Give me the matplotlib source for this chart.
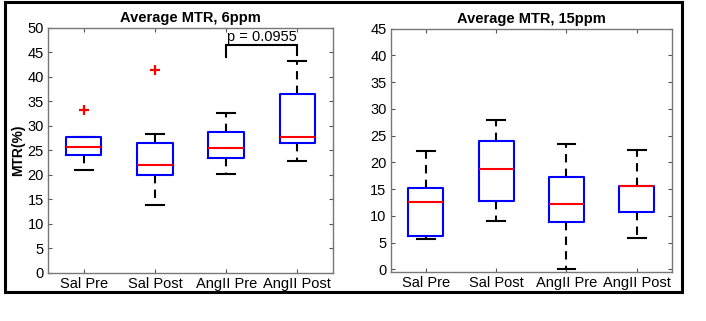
import matplotlib
matplotlib.use("Agg")
import matplotlib.pyplot as plt
from matplotlib.patches import Rectangle

plt.rcParams["font.family"] = ["Liberation Sans", "DejaVu Sans"]

GROUPS = ["Sal Pre", "Sal Post", "AngII Pre", "AngII Post"]

# 6 ppm panel: lower whisker, Q1, median, Q3, upper whisker, outliers
LOW_6 = [21.0, 13.8, 20.1, 22.8]
Q1_6 = [24.1, 19.9, 23.4, 26.5]
MED_6 = [25.7, 22.0, 25.5, 27.7]
Q3_6 = [27.7, 26.6, 28.8, 36.5]
HIGH_6 = [27.7, 28.3, 32.7, 43.2]
OUT_6 = [[33.3], [41.5], [], []]

# 15 ppm panel
LOW_15 = [5.7, 9.1, 0.0, 5.9]
Q1_15 = [6.2, 12.8, 8.8, 10.8]
MED_15 = [12.6, 18.8, 12.2, 15.6]
Q3_15 = [15.2, 24.0, 17.2, 15.65]
HIGH_15 = [22.1, 27.9, 23.4, 22.3]
OUT_15 = [[], [], [], []]

P_TEXT = "p = 0.0955"


def make_stats(low, q1, med, q3, high, out):
    stats = []
    for i, name in enumerate(GROUPS):
        stats.append({"label": name, "whislo": low[i], "q1": q1[i], "med": med[i],
                      "q3": q3[i], "whishi": high[i], "fliers": out[i]})
    return stats


def draw_panel(ax, stats, title, ylim, yticks):
    ax.bxp(stats, positions=[1, 2, 3, 4], widths=0.5, showfliers=True,
           boxprops=dict(color="#0000ff", linewidth=1.5, zorder=3),
           medianprops=dict(color="#ff0000", linewidth=1.5, zorder=4),
           whiskerprops=dict(color="black", linewidth=1.5, linestyle=(0, (4, 3))),
           capprops=dict(color="black", linewidth=1.5),
           flierprops=dict(marker="+", markeredgecolor="#ff0000", markersize=7,
                           markeredgewidth=1.6, linestyle="none"))
    ax.set_xlim(0.5, 4.5)
    ax.set_ylim(*ylim)
    ax.set_yticks(yticks)
    ax.set_xticks([1, 2, 3, 4])
    ax.set_xticklabels(GROUPS)
    ax.set_title(title, fontsize=10.5, fontweight="bold", pad=4)
    ax.tick_params(direction="in", length=3, width=0.8, color="#555555",
                   top=True, right=True, labelsize=10.5, pad=3)
    for sp in ax.spines.values():
        sp.set_color("#777777")
        sp.set_linewidth(1.0)


fig = plt.figure(figsize=(7.06, 3.21), dpi=100)
ax1 = fig.add_axes([0.068, 0.1505, 0.4037, 0.7623])
ax2 = fig.add_axes([0.5534, 0.1536, 0.3984, 0.757])

draw_panel(ax1, make_stats(LOW_6, Q1_6, MED_6, Q3_6, HIGH_6, OUT_6),
           "Average MTR, 6ppm", (0, 50), range(0, 51, 5))
draw_panel(ax2, make_stats(LOW_15, Q1_15, MED_15, Q3_15, HIGH_15, OUT_15),
           "Average MTR, 15ppm", (-0.45, 45), range(0, 46, 5))

ax1.set_ylabel("MTR(%)", fontsize=10, fontweight="bold", labelpad=2)

# significance bracket between AngII Pre and AngII Post
ax1.plot([3, 3, 4, 4], [44.1, 46.5, 46.5, 44.4], color="black", linewidth=1.5,
         solid_joinstyle="miter")
ax1.text(3.5, 46.8, P_TEXT, ha="center", va="bottom", fontsize=10.5)

# outer frame
fig.add_artist(Rectangle((0.0064, 0.0919), 0.9603, 0.9034, transform=fig.transFigure,
                         fill=False, edgecolor="black", linewidth=2.2))

fig.savefig("out.png", dpi=100)
